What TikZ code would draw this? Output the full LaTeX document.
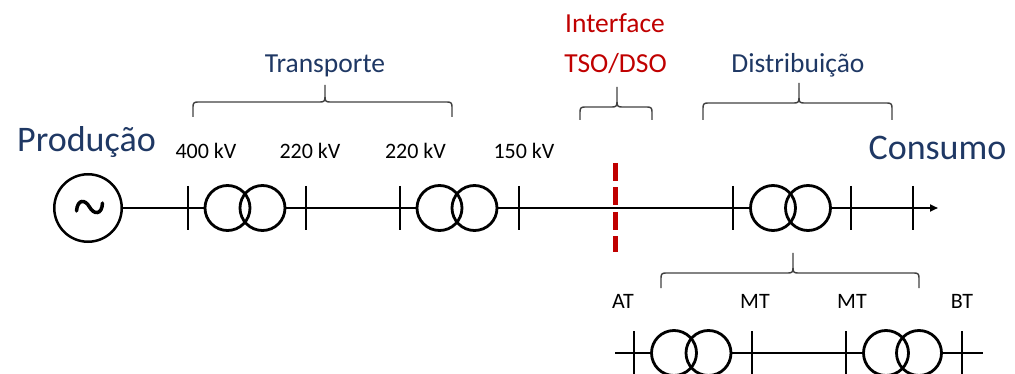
\documentclass[tikz,border=0pt]{standalone}
\usepackage{fontspec}
\setmainfont{Carlito}
\usetikzlibrary{arrows.meta}
\definecolor{navy}{RGB}{31,56,100}
\definecolor{ifred}{RGB}{192,0,0}
\definecolor{bracegray}{RGB}{64,64,64}
\tikzset{
  wire/.style={line width=2.5pt, black},
  bustick/.style={line width=2.5pt, black},
  xfmr/.style={circle, draw, line width=2.8pt, minimum size=45pt, inner sep=0pt, outer sep=0pt},
  gensym/.style={circle, draw, line width=2.5pt, minimum size=67.5pt, inner sep=0pt, outer sep=0pt},
  bracestyle/.style={line width=1.4pt, bracegray, line join=round},
  bigtxt/.style={inner sep=0pt, anchor=base, text=navy, font=\fontsize{36}{40}\selectfont},
  sectxt/.style={inner sep=0pt, anchor=base, text=navy, font=\fontsize{27.5}{32}\selectfont},
  redtxt/.style={inner sep=0pt, anchor=base, text=ifred, font=\fontsize{27.5}{32}\selectfont},
  kvtxt/.style={inner sep=0pt, anchor=base, text=black, font=\fontsize{22}{26}\selectfont},
  ifline/.style={line width=5pt, ifred, dash pattern=on 18pt off 6.5pt}
}
\newcommand\mybrace[6]{%
  \draw[bracestyle] (#1,#4) -- (#1,#5+5) .. controls (#1,#5+1) and (#1+1,#5) .. (#1+5,#5)
    -- (#3-5,#5) .. controls (#3-1,#5) and (#3,#5-1) .. (#3,#5-5) -- (#3,#6);
  \draw[bracestyle] (#3,#5-5) .. controls (#3,#5-1) and (#3+1,#5) .. (#3+5,#5)
    -- (#2-5,#5) .. controls (#2-1,#5) and (#2,#5+1) .. (#2,#5+5) -- (#2,#4);
}
\newcommand\mytick[1]{\draw[bustick] (#1) ++(0,-22) -- ++(0,44);}
\begin{document}
\begin{tikzpicture}[x=1pt,y=-1pt]
\useasboundingbox (0,0) rectangle (1015,374);

% ---------- texts ----------
\node[bigtxt] (prod) at (86.5,152) {Produção};
\node[bigtxt] (cons) at (937.5,160) {Consumo};
\node[sectxt] (transp) at (325,73) {Transporte};
\node[redtxt] (iface) at (615,33) {Interface};
\node[redtxt] (tsodso) at (615.5,73) {TSO/DSO};
\node[sectxt] (distr) at (798,73) {Distribuição};
\node[kvtxt] (kv1) at (206,159) {400 kV};
\node[kvtxt] (kv2) at (310,159) {220 kV};
\node[kvtxt] (kv3) at (415.5,159) {220 kV};
\node[kvtxt] (kv4) at (524,159) {150 kV};
\node[kvtxt] (at) at (623,308) {AT};
\node[kvtxt] (mt1) at (755,308) {MT};
\node[kvtxt] (mt2) at (852,308) {MT};
\node[kvtxt] (bt) at (962,308) {BT};

% ---------- braces ----------
\mybrace{193}{452}{325}{117}{102}{85}
\mybrace{580}{652}{617}{120}{107}{87}
\mybrace{703}{892}{799}{120}{103}{83}
\mybrace{661}{919}{793}{288}{273}{253}

% ---------- main line ----------
\node[gensym] (gen) at (88,208) {};
\draw[line width=3.5pt, line cap=round] (76.5,211) .. controls (77.5,199) and (85,199) .. (89.5,207)
   .. controls (94,215) and (102,215) .. (102.5,203);

\node[xfmr] (t1a) at (227.5,208) {};
\node[xfmr] (t1b) at (262.5,208) {};
\node[xfmr] (t2a) at (439.5,208) {};
\node[xfmr] (t2b) at (474.5,208) {};
\node[xfmr] (t3a) at (773,208) {};
\node[xfmr] (t3b) at (808,208) {};

\coordinate (b1) at (188,208);
\coordinate (b2) at (306,208);
\coordinate (b3) at (400,208);
\coordinate (b4) at (519,208);
\coordinate (b5) at (733,208);
\coordinate (b6) at (851,208);
\coordinate (b7) at (913,208);
\coordinate (mainend) at (938,208);

\draw[wire] (gen) -- (t1a);
\draw[wire] (t1b) -- (t2a);
\draw[wire] (t2b) -- (t3a);
\draw[wire, -{Triangle[length=8pt,width=7pt]}] (t3b) -- (mainend);

\foreach \b in {b1,b2,b3,b4,b5,b6,b7} {\mytick{\b}}

% ---------- interface ----------
\coordinate (iftop) at (615,163);
\coordinate (ifbot) at (615,252);
\draw[ifline] (iftop) -- (ifbot);

% ---------- bottom line ----------
\node[xfmr] (d1a) at (674,353) {};
\node[xfmr] (d1b) at (708.5,353) {};
\node[xfmr] (d2a) at (886,353) {};
\node[xfmr] (d2b) at (919,353) {};
\coordinate (dstart) at (615,353);
\coordinate (dend) at (983,353);
\coordinate (c1) at (634,353);
\coordinate (c2) at (752,353);
\coordinate (c3) at (846,353);
\coordinate (c4) at (962,353);
\draw[wire] (dstart) -- (d1a);
\draw[wire] (d1b) -- (d2a);
\draw[wire] (d2b) -- (dend);
\foreach \b in {c1,c2,c3,c4} {\mytick{\b}}
\end{tikzpicture}
\end{document}
